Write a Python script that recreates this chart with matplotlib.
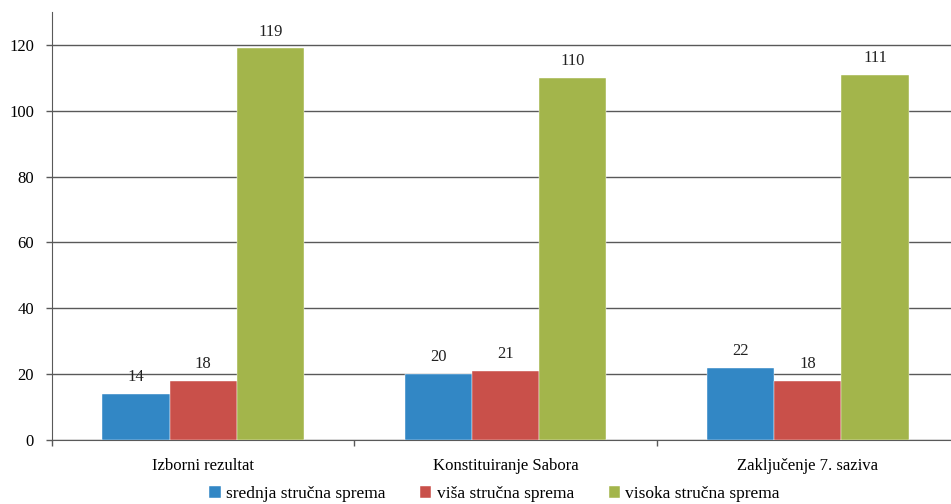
import matplotlib.pyplot as plt
import numpy as np

plt.rcParams["font.family"] = ["Liberation Serif", "DejaVu Serif"]

categories = ["Izborni rezultat", "Konstituiranje Sabora", "Zaključenje 7. saziva"]
series_names = ["srednja stručna sprema", "viša stručna sprema", "visoka stručna sprema"]
srednja = [14, 20, 22]
visa = [18, 21, 18]
visoka = [119, 110, 111]
colors = ["#3287C5", "#C9504A", "#A3B54B"]

fig = plt.figure(figsize=(9.51, 5.04), dpi=100)
ax = fig.add_axes([52 / 951, 64 / 504, 907 / 951, 428 / 504])

x = np.arange(len(categories))
width = 0.222
grid_col = "#595959"

for i, (vals, name, col) in enumerate(zip([srednja, visa, visoka], series_names, colors)):
    pos = x + (i - 1) * width
    ax.bar(pos, vals, width, color=col, label=name, zorder=3,
           edgecolor="white", linewidth=0.3)
    for p, v in zip(pos, vals):
        ax.annotate(str(v), (p, v), xytext=(0, 12), textcoords="offset points",
                    ha="center", va="center", fontsize=12, color="#222222")

ax.set_xlim(-0.5, 2.5)
ax.set_ylim(0, 130)
ax.set_yticks(range(0, 121, 20))
ax.yaxis.grid(True, color=grid_col, linewidth=1.0, zorder=1)
ax.set_axisbelow(True)

ax.set_xticks([-0.5, 0.5, 1.5, 2.5])
ax.set_xticklabels([])
ax.set_xticks(x, minor=True)
ax.set_xticklabels(categories, minor=True)
ax.tick_params(axis="x", which="major", length=4, color=grid_col, width=1)
ax.tick_params(axis="x", which="minor", length=0, pad=13, labelsize=12)
ax.tick_params(axis="y", length=4, color=grid_col, width=1, pad=9, labelsize=12)

for s in ["top", "right"]:
    ax.spines[s].set_visible(False)
ax.spines["left"].set_color(grid_col)
ax.spines["bottom"].set_color(grid_col)

fig.legend(loc="lower center", bbox_to_anchor=(0.52, -0.027), ncol=3, frameon=False,
           prop={"family": ["Liberation Serif"], "size": 12.5},
           handlelength=0.65, handleheight=0.65, handletextpad=0.3,
           columnspacing=2.0)

fig.savefig("out.png", dpi=100)
